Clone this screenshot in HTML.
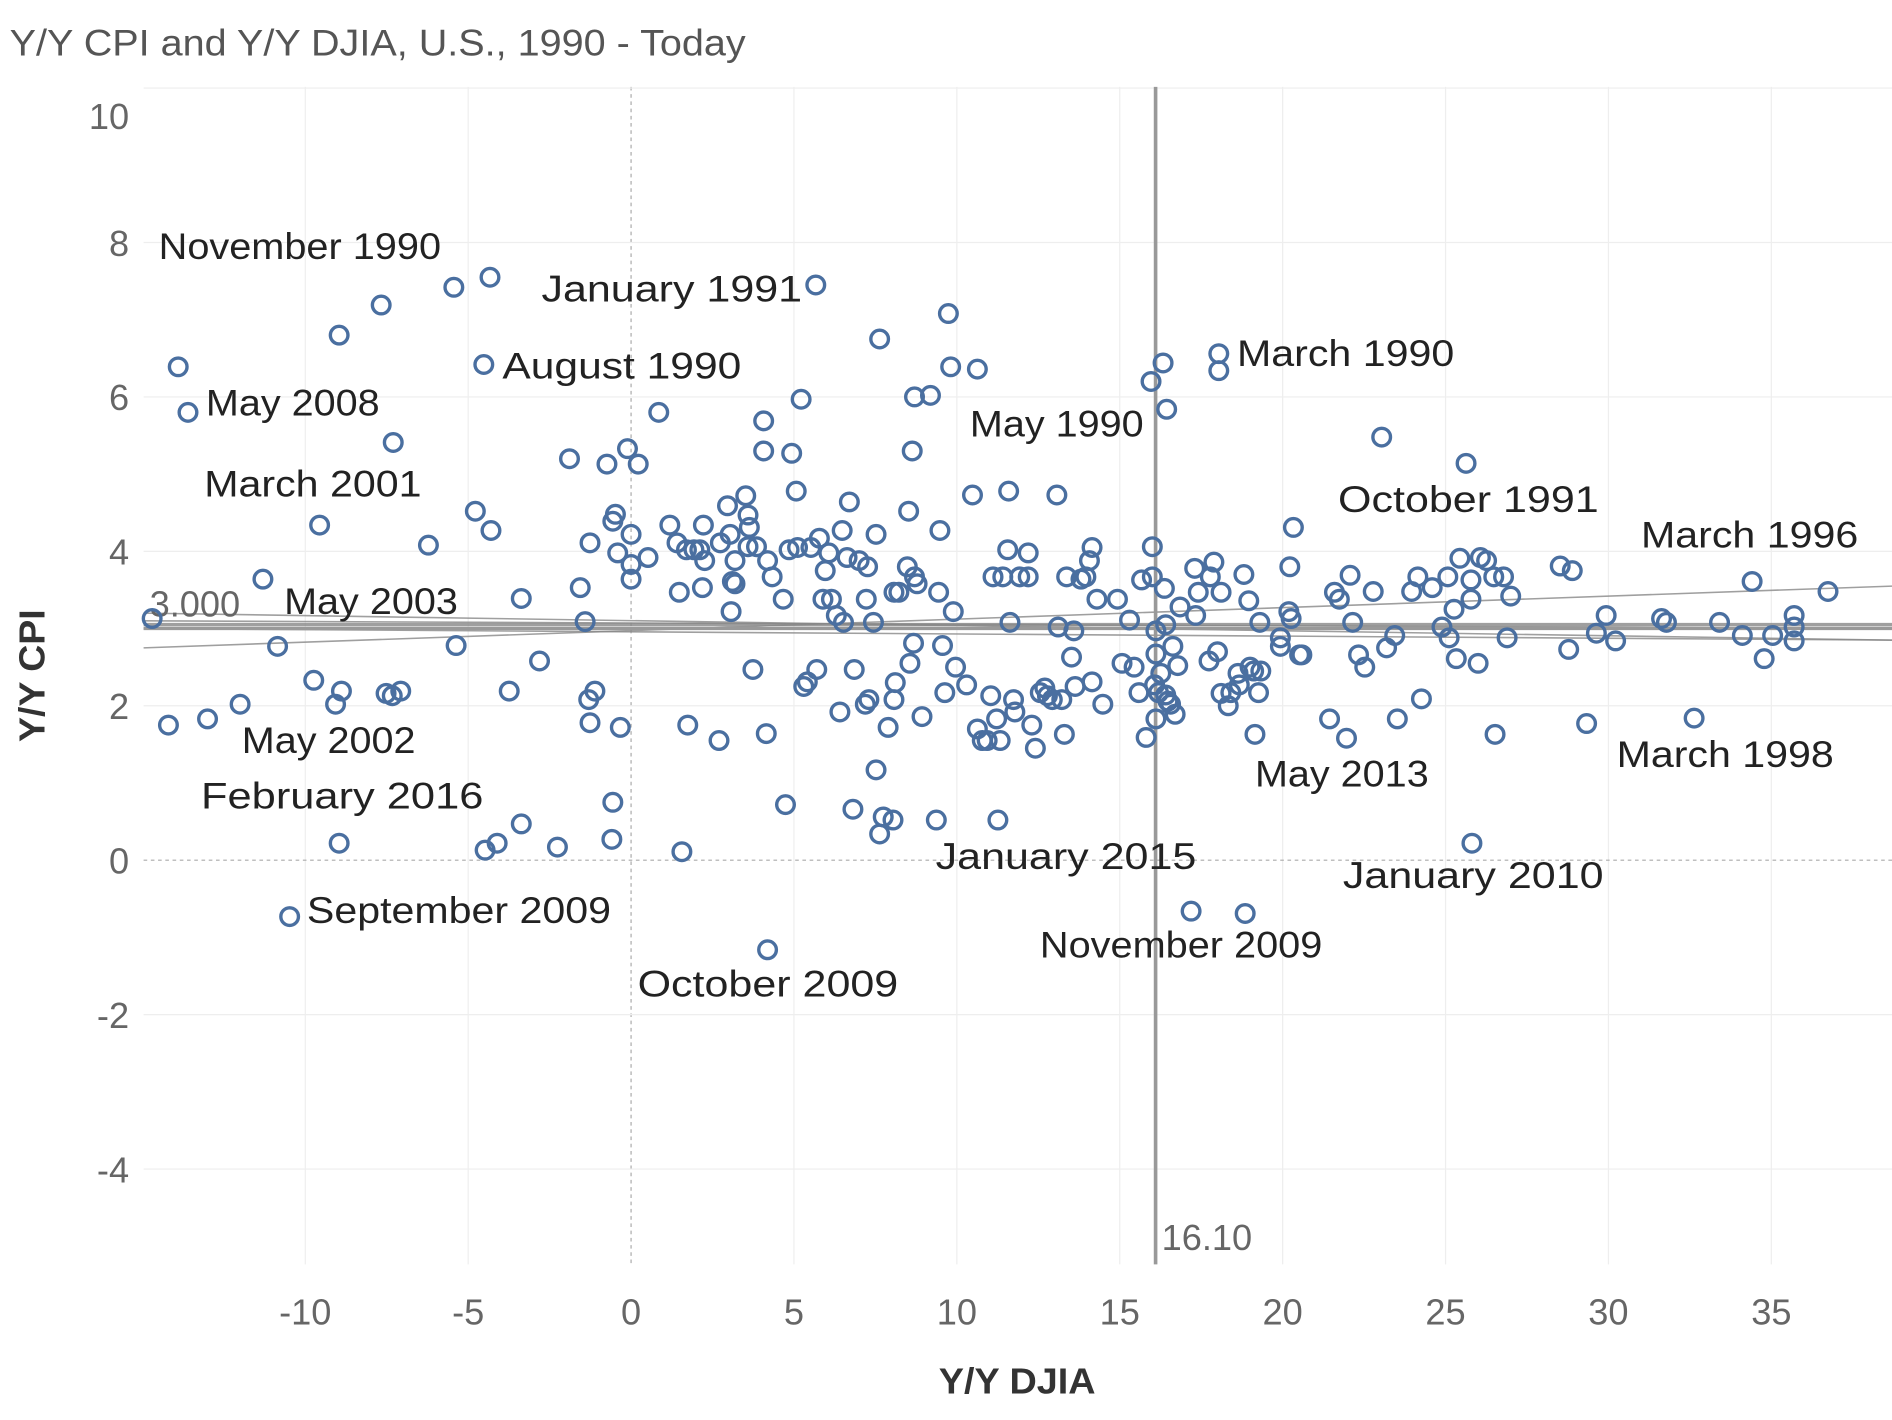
<!DOCTYPE html>
<html><head><meta charset="utf-8"><style>
html,body{margin:0;padding:0;background:#fff;}
svg{display:block;font-family:"Liberation Sans",sans-serif;}
</style></head><body>
<svg id="chart" width="1892" height="1420" viewBox="0 0 1568 1177" preserveAspectRatio="none" xmlns="http://www.w3.org/2000/svg">
<text x="8" y="46" font-size="31" fill="#555" textLength="610" lengthAdjust="spacingAndGlyphs">Y/Y CPI and Y/Y DJIA, U.S., 1990 - Today</text>
<g id="grid"></g><g id="lines"></g><g id="pts"></g><g id="labels"></g>
<text x="843" y="1155" font-size="30" font-weight="bold" fill="#333" text-anchor="middle" textLength="130" lengthAdjust="spacingAndGlyphs">Y/Y DJIA</text>
<text transform="translate(37,560) rotate(-90)" font-size="30" font-weight="bold" fill="#333" text-anchor="middle" textLength="110" lengthAdjust="spacingAndGlyphs">Y/Y CPI</text>
</svg>
<script>
const djia=[-14.7,-14.2,-13.9,-13.6,-13.0,-12.0,-11.3,-10.85,-9.74,-9.56,-9.07,-8.96,-8.89,-8.96,-7.67,-7.52,-7.30,-7.33,-7.07,-6.22,-5.44,-5.37,-4.78,-4.52,-4.33,-4.30,-4.48,-4.11,-3.74,-3.37,-3.37,-2.81,-2.26,-1.89,-1.56,-1.41,-1.30,-1.26,-1.26,-1.11,-0.74,-0.56,-0.56,-0.59,-0.48,-0.41,-0.33,-0.11,0,0,0,0.22,0.52,0.85,1.19,1.41,1.48,1.56,1.70,1.74,1.93,2.11,2.22,2.19,2.26,2.70,2.74,2.96,3.04,3.07,3.11,3.19,3.19,3.52,3.59,3.63,3.59,3.74,3.85,4.07,4.07,4.19,4.15,4.33,4.67,4.74,4.85,4.93,5.07,5.11,5.22,5.30,5.41,5.52,5.70,5.78,5.89,5.96,6.07,6.15,6.30,6.41,6.52,6.48,6.63,6.70,6.81,6.85,7.00,7.19,7.26,7.22,7.30,7.44,7.52,7.52,7.63,7.63,7.74,7.89,8.07,8.07,8.11,8.22,8.04,8.48,8.52,8.56,8.63,8.70,8.67,8.70,8.78,8.93,9.19,9.37,9.44,9.48,9.56,9.63,9.74,9.81,9.89,9.96,10.30,10.48,10.63,10.63,10.78,10.93,11.04,11.11,11.22,11.26,11.33,11.41,11.59,11.56,11.63,11.74,11.78,11.93,12.19,12.19,12.30,12.41,12.56,12.70,12.78,12.93,13.07,13.11,13.22,13.30,13.37,13.52,13.59,13.63,13.81,13.96,14.07,14.15,14.15,14.30,14.48,14.93,15.07,15.30,15.44,15.59,15.67,15.81,15.96,16.00,16.00,16.07,16.11,16.11,16.11,16.19,16.26,16.33,16.37,16.41,16.44,16.41,16.48,16.56,16.63,16.70,16.78,16.85,17.19,17.30,17.33,17.41,17.74,17.78,17.89,18.00,18.04,18.04,18.11,18.11,18.33,18.41,18.63,18.67,18.81,18.85,18.96,19.00,19.11,19.15,19.26,19.30,19.33,19.93,19.93,20.19,20.22,20.26,20.33,20.52,20.59,21.44,21.59,21.74,21.96,22.07,22.15,22.33,22.52,22.78,23.04,23.19,23.44,23.52,23.96,24.15,24.26,24.59,24.89,25.07,25.11,25.26,25.33,25.44,25.63,25.78,25.78,25.81,26.00,26.07,26.26,26.48,26.52,26.78,26.89,27.00,28.52,28.78,28.89,29.33,29.63,29.93,30.22,31.63,31.78,32.63,33.41,34.11,34.41,34.78,35.04,35.70,35.70,35.70,36.74,4.19,-10.48,5.67];
const cpi=[3.13,1.75,6.39,5.80,1.83,2.02,3.64,2.77,2.33,4.34,2.02,6.80,2.19,0.22,7.19,2.16,5.41,2.13,2.19,4.08,7.42,2.78,4.52,6.42,7.55,4.27,0.13,0.22,2.19,3.39,0.47,2.58,0.17,5.20,3.53,3.09,2.08,1.78,4.11,2.19,5.13,4.39,0.75,0.27,4.48,3.98,1.72,5.33,4.22,3.83,3.64,5.13,3.92,5.80,4.34,4.11,3.47,0.11,4.02,1.75,4.02,4.02,4.34,3.53,3.88,1.55,4.11,4.59,4.22,3.22,3.61,3.88,3.58,4.72,4.47,4.31,4.06,2.47,4.06,5.69,5.30,3.88,1.64,3.67,3.38,0.72,4.02,5.27,4.78,4.05,5.97,2.25,2.31,4.05,2.47,4.17,3.38,3.75,3.98,3.38,3.17,1.92,3.08,4.27,3.92,4.64,0.66,2.47,3.88,2.02,3.80,3.38,2.08,3.08,4.22,1.17,6.75,0.34,0.56,1.72,3.47,2.08,2.30,3.47,0.52,3.80,4.52,2.55,5.30,6.00,2.81,3.67,3.58,1.86,6.02,0.52,3.47,4.27,2.78,2.17,7.08,6.39,3.22,2.50,2.27,4.73,6.36,1.70,1.55,1.55,2.13,3.67,1.83,0.52,1.55,3.67,4.78,4.02,3.08,2.08,1.92,3.67,3.98,3.67,1.75,1.45,2.17,2.23,2.13,2.08,4.73,3.02,2.08,1.63,3.67,2.63,2.97,2.25,3.64,3.67,3.88,4.05,2.31,3.38,2.02,3.38,2.55,3.11,2.50,2.17,3.63,1.59,6.20,4.06,3.67,2.27,2.97,2.67,1.83,2.17,2.42,6.44,3.52,3.05,5.84,2.14,2.06,2.02,2.77,1.89,2.52,3.28,-0.66,3.78,3.17,3.47,2.58,3.67,3.86,2.70,6.56,6.34,3.47,2.16,2.00,2.17,2.42,2.27,3.70,-0.69,3.36,2.50,2.45,1.63,2.17,3.08,2.45,2.88,2.77,3.22,3.80,3.13,4.31,2.66,2.66,1.83,3.47,3.38,1.58,3.69,3.08,2.66,2.50,3.48,5.48,2.75,2.91,1.83,3.48,3.67,2.09,3.53,3.02,3.67,2.88,3.25,2.61,3.91,5.14,3.38,3.63,0.22,2.55,3.92,3.88,3.67,1.63,3.67,2.88,3.42,3.81,2.73,3.75,1.77,2.94,3.17,2.84,3.13,3.08,1.84,3.08,2.91,3.61,2.61,2.91,3.17,3.02,2.84,3.48,-1.16,-0.73,7.45];
const xTicks=[-10,-5,0,5,10,15,20,25,30,35];
const yTicks=[-4,-2,0,2,4,6,8,10];
const annText=["November 1990","January 1991","August 1990","May 2008","March 2001","May 2003","May 2002","February 2016","September 2009","October 2009","March 1990","May 1990","October 1991","March 1996","March 1998","May 2013","January 2015","January 2010","November 2009"];
const annX=[-14.5,-2.75,-3.95,-13.05,-13.1,-10.65,-11.95,-13.2,-9.95,0.2,18.6,10.4,21.7,31.0,30.25,19.15,9.35,21.85,12.55];
const annY=[7.85,7.3,6.3,5.82,4.77,3.25,1.45,0.73,-0.75,-1.7,6.46,5.55,4.57,4.11,1.27,1.02,-0.05,-0.3,-1.2];
const refX=16.10, refY=3.0;
const trendStart=[2.75,3.0,3.05,3.1,3.2];
const trendEnd=[3.55,2.85,3.05,3.0,2.85];

const L=119,R=1568,T=72,B=1048;
const X=v=>523+v*27, Y=v=>713-v*64;
const NS='http://www.w3.org/2000/svg';
function mk(tag,attrs,parent,txt){const e=document.createElementNS(NS,tag);for(const k in attrs)e.setAttribute(k,attrs[k]);if(txt!==undefined)e.textContent=txt;parent.appendChild(e);return e;}
const g=document.getElementById('grid'),ln=document.getElementById('lines'),pg=document.getElementById('pts'),lb=document.getElementById('labels');
xTicks.forEach(t=>{
  const l=mk('line',{x1:X(t),x2:X(t),y1:T,y2:B,stroke:t===0?'#aaa':'#eee','stroke-width':1,'stroke-dasharray':t===0?'3,3':'none'},g);
  
  
  const tx=mk('text',{x:X(t),y:1098,'font-size':30,fill:'#666','text-anchor':'middle'},g,String(t));
  
  
});
yTicks.forEach(t=>{
  const l=mk('line',{x1:L,x2:R,y1:Y(t),y2:Y(t),stroke:t===0?'#aaa':'#eee','stroke-width':1,'stroke-dasharray':t===0?'3,3':'none'},g);
  
  
  const yy=t===10?Y(t)+34:Y(t)+11;
  const tx=mk('text',{x:107,y:yy,'font-size':30,fill:'#666','text-anchor':'end'},g,String(t));
  
  
});
trendStart.forEach((s,i)=>{
  const l=mk('line',{x1:L,x2:R,y1:Y(s),y2:Y(trendEnd[i]),stroke:'#888','stroke-width':i===2?3:1.3,opacity:0.8},ln);
  
  
});
const rl=mk('line',{x1:X(refX),x2:X(refX),y1:T,y2:B,stroke:'#999','stroke-width':3},ln);


const rt=mk('text',{x:X(refX)+5,y:1036,'font-size':30,fill:'#666'},ln,refX.toFixed(2));


const ry=mk('line',{x1:L,x2:R,y1:Y(refY),y2:Y(refY),stroke:'#999','stroke-width':2.5},ln);


const rty=mk('text',{x:124,y:Y(refY)-10,'font-size':30,fill:'#666'},ln,refY.toFixed(3));


djia.forEach((v,i)=>{
  const c=mk('circle',{cx:X(v),cy:Y(cpi[i]),r:7.3,fill:'none',stroke:'#4a6fa0','stroke-width':2.8},pg);
  
  
});
annText.forEach((s,i)=>{
  const t=mk('text',{x:X(annX[i]),y:Y(annY[i])+4,'font-size':31,fill:'#222',textLength:s.length*18,lengthAdjust:'spacingAndGlyphs'},lb,s);
  
  
});
</script>
</body></html>
